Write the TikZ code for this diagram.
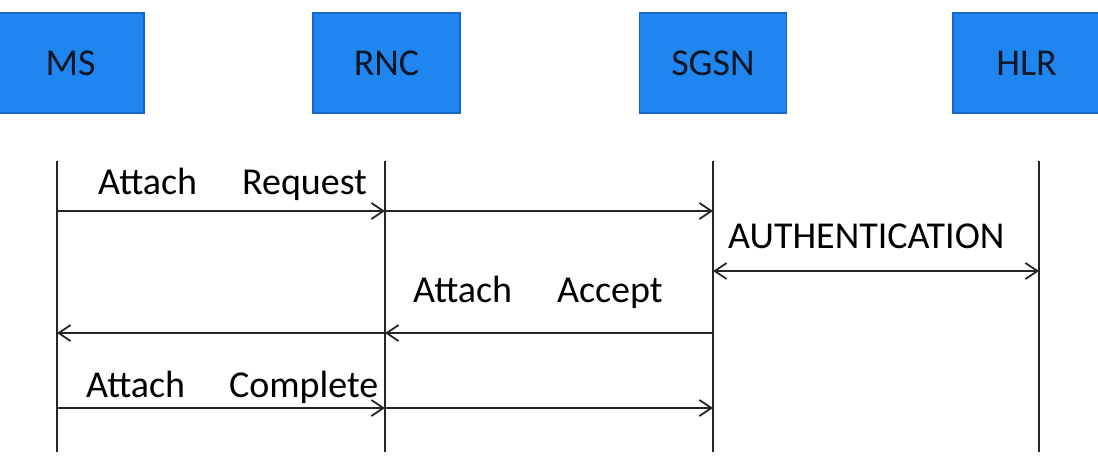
\documentclass[tikz,border=0pt]{standalone}
\usepackage{fontspec}
\setmainfont{Carlito}
\usepackage{xcolor}
\usetikzlibrary{arrows.meta,positioning,calc}
\definecolor{entityblue}{RGB}{30,134,238}
\definecolor{entityedge}{RGB}{22,104,200}
\definecolor{entitytext}{RGB}{15,22,38}
\tikzset{
  entity/.style={
    rectangle, draw=entityedge, fill=entityblue, line width=1.2pt,
    minimum width=147pt, minimum height=100pt, inner sep=0pt,
    text=entitytext, font=\fontsize{38}{44}\selectfont
  },
  lifeline/.style={line width=2pt,black!85},
  msgedge/.style={-{Straight Barb[length=12pt,width=16pt,line width=1.8pt]},line width=2pt,black!85},
  msgboth/.style={{Straight Barb[length=12pt,width=16pt,line width=1.8pt]}-{Straight Barb[length=12pt,width=16pt,line width=1.8pt]},line width=2pt,black!85},
  msglabel/.style={anchor=base west,inner sep=0pt,font=\fontsize{38}{44}\selectfont,text=black}
}
\begin{document}
\begin{tikzpicture}[x=1pt,y=-1pt]
  \useasboundingbox (0,0) rectangle (1098,471);
  % entities
  \node[entity] (ms) at (70.5,63) {MS};
  \node[entity] (rnc) at (386.5,63) {RNC};
  \node[entity] (sgsn) at (713,63) {SGSN};
  \node[entity] (hlr) at (1026.5,63) {HLR};
  % lifelines
  \coordinate (mstop) at (57,161);    \coordinate (msbot) at (57,452);
  \coordinate (rnctop) at (385,161);  \coordinate (rncbot) at (385,452);
  \coordinate (sgsntop) at (713,161); \coordinate (sgsnbot) at (713,452);
  \coordinate (hlrtop) at (1039,161); \coordinate (hlrbot) at (1039,452);
  \draw[lifeline] (mstop) -- (msbot);
  \draw[lifeline] (rnctop) -- (rncbot);
  \draw[lifeline] (sgsntop) -- (sgsnbot);
  \draw[lifeline] (hlrtop) -- (hlrbot);
  % message points on the lifelines
  \coordinate (msreq) at (57,211);    \coordinate (rncreq) at (385,211);  \coordinate (sgsnreq) at (713,211);
  \coordinate (sgsnauth) at (713,271); \coordinate (hlrauth) at (1039,271);
  \coordinate (msacc) at (57,333);    \coordinate (rncacc) at (385,333);  \coordinate (sgsnacc) at (713,333);
  \coordinate (mscmp) at (57,408);    \coordinate (rnccmp) at (385,408);  \coordinate (sgsncmp) at (713,408);
  % attach request
  \node[msglabel] (lblreq) at (98,194) {Attach\hspace{45pt}Request};
  \draw[msgedge] (msreq) -- (rncreq);
  \draw[msgedge] (rncreq) -- (sgsnreq);
  % authentication
  \node[msglabel] (lblauth) at (728,248) {AUTHENTICATION};
  \draw[msgboth] (sgsnauth) -- (hlrauth);
  % attach accept
  \node[msglabel] (lblacc) at (413,302) {Attach\hspace{45pt}Accept};
  \draw[msgedge] (sgsnacc) -- (rncacc);
  \draw[msgedge] (rncacc) -- (msacc);
  % attach complete
  \node[msglabel] (lblcmp) at (86,397) {Attach\hspace{44pt}Complete};
  \draw[msgedge] (mscmp) -- (rnccmp);
  \draw[msgedge] (rnccmp) -- (sgsncmp);
\end{tikzpicture}
\end{document}
